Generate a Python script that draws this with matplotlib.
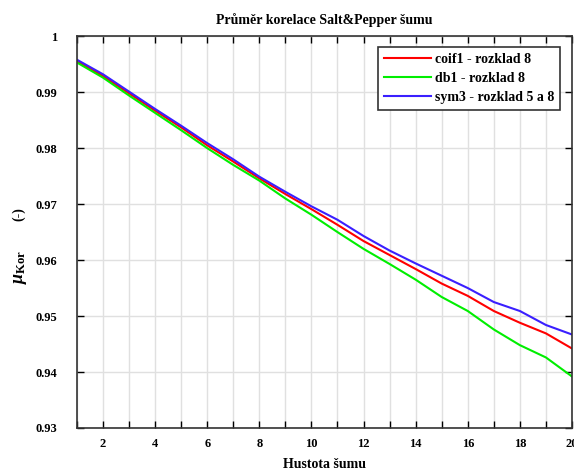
import matplotlib
matplotlib.use("Agg")
import matplotlib.pyplot as plt
from matplotlib.ticker import MultipleLocator, FuncFormatter

plt.rcParams['font.family'] = ['Liberation Serif', 'DejaVu Serif']
plt.rcParams['font.weight'] = 'bold'
plt.rcParams['mathtext.fontset'] = 'custom'
plt.rcParams['mathtext.it'] = 'Liberation Serif:italic:bold'
plt.rcParams['mathtext.bf'] = 'Liberation Serif:bold'
plt.rcParams['mathtext.rm'] = 'Liberation Serif:bold'

density = list(range(1, 21))
coif1 = [0.9956, 0.9929, 0.9898, 0.9867, 0.9837, 0.9805, 0.9776, 0.9746, 0.9718, 0.9691,
         0.9663, 0.9634, 0.9609, 0.9584, 0.9558, 0.9536, 0.9509, 0.9488, 0.9469, 0.9442]
db1 = [0.9953, 0.9926, 0.9894, 0.9863, 0.9832, 0.9800, 0.9770, 0.9742, 0.9710, 0.9681,
       0.9650, 0.9620, 0.9593, 0.9565, 0.9534, 0.9509, 0.9476, 0.9448, 0.9426, 0.9392]
sym3 = [0.9958, 0.9932, 0.9901, 0.9870, 0.9840, 0.9809, 0.9780, 0.9749, 0.9722, 0.9696,
        0.9672, 0.9643, 0.9617, 0.9594, 0.9572, 0.9550, 0.9525, 0.9509, 0.9484, 0.9467]
labels = ['coif1 - rozklad 8', 'db1 - rozklad 8', 'sym3 - rozklad 5 a 8']
colors = ['#ff0000', '#00ee00', '#3a1fff']

fig = plt.figure(figsize=(5.74, 4.70), dpi=100)
ax = fig.add_axes([0.134, 0.0894, 0.8625, 0.8336])

for series, lab, col in zip([coif1, db1, sym3], labels, colors):
    ax.plot(density, series, color=col, lw=1.5, label=lab)

ax.set_xlim(1, 20)
ax.set_ylim(0.93, 1.0)
ax.xaxis.set_major_locator(MultipleLocator(1))
ax.yaxis.set_major_locator(MultipleLocator(0.01))
ax.xaxis.set_major_formatter(FuncFormatter(lambda v, p: f"{int(round(v))}" if int(round(v)) % 2 == 0 else ""))
ax.yaxis.set_major_formatter(FuncFormatter(lambda v, p: f"{v:g}"))
ax.tick_params(direction='in', top=True, right=True, length=5, width=1,
               labelsize=9)
ax.tick_params(axis='x', pad=7)
ax.tick_params(axis='y', pad=14)
ax.grid(True, color='#e0e0e0', lw=1)
for sp in ax.spines.values():
    sp.set_linewidth(1.2)
    sp.set_color('#333333')

ax.set_title('Průměr korelace Salt&Pepper šumu', fontsize=10, fontweight='bold', pad=9)
ax.set_xlabel('Hustota šumu', fontsize=10, fontweight='bold', labelpad=6)
ax.text(-0.113, 0.41, r'$\mu_{\mathbf{Kor}}$', transform=ax.transAxes,
        rotation=90, fontsize=13, ha='center', va='center')
ax.text(-0.117, 0.545, '(-)', transform=ax.transAxes,
        rotation=90, fontsize=10, ha='center', va='center')

leg = ax.legend(loc='upper right', bbox_to_anchor=(0.976, 0.972), fontsize=10,
                handlelength=3.4, handletextpad=0.3, labelspacing=0.45,
                fancybox=False, edgecolor='#333333', framealpha=1,
                borderpad=0.4, borderaxespad=0.0)
leg.get_frame().set_linewidth(1.2)

fig.savefig('out.png', dpi=100)
